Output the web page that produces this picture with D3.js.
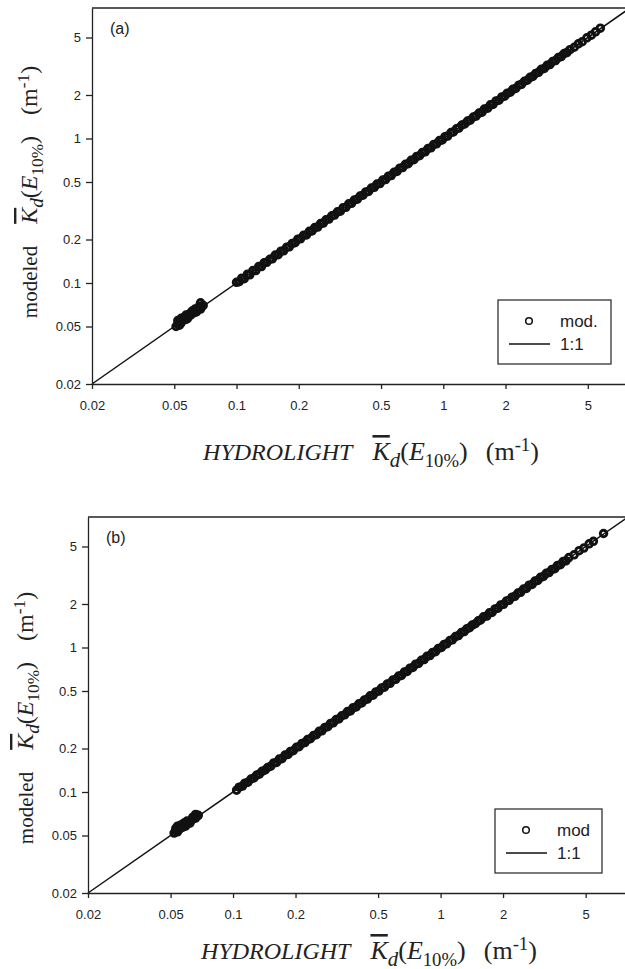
<!DOCTYPE html>
<html>
<script src="https://d3js.org/d3.v7.min.js"></script>
<style>
body {margin:0; background:#fff;}
.tick text {font-family:"Liberation Sans", Arial, sans-serif; font-size:13px; fill:#222;}
.tick line, .domain {stroke:#222; stroke-width:1.3;}
</style>
<body>
<svg width=625 height=969></svg>
<script>
// tick values shared by both axes of both panels
const ticks = [0.02, 0.05, 0.1, 0.2, 0.5, 1, 2, 5];
const domainK = [0.02, 8];

// panel (a): HYDROLIGHT Kd vs modeled Kd
const hlA = [0.051,0.052,0.053,0.052,0.054,0.055,0.054,0.056,0.057,0.058,0.057,0.059,0.060,0.061,0.062,0.061,0.063,0.064,0.065,0.066,0.067,0.068,0.066,0.069,0.067,0.053,0.058,0.063,
  0.100,0.103,0.106,0.109,0.113,0.116,0.120,0.124,0.128,0.132,0.136,0.140,0.145,0.149,0.154,0.159,0.164,0.169,0.175,0.180,0.186,0.192,0.198,0.204,0.211,0.218,0.225,0.232,0.239,0.247,0.255,0.263,0.271,0.280,0.289,0.298,0.308,0.318,0.328,0.338,0.349,0.360,0.372,0.384,0.396,0.409,0.422,0.435,0.449,0.464,0.478,0.494,0.510,0.526,0.543,0.560,0.578,0.597,0.616,0.636,0.656,0.677,0.699,0.721,0.744,0.768,0.793,0.818,0.845,0.872,0.900,0.928,0.958,0.989,1.02,1.05,1.09,1.12,1.16,1.19,1.23,1.27,1.31,1.35,1.40,1.44,1.49,1.54,1.58,1.64,1.69,1.74,1.80,1.86,1.92,1.98,2.04,2.11,2.17,2.24,2.32,2.39,2.47,2.55,2.63,2.71,2.80,2.89,2.98,3.08,3.18,3.28,3.38,3.49,3.60,3.72,3.84,3.96,
  4.10,4.30,4.50,4.70,4.95,5.20,5.45,5.75];
const modA = [0.050,0.052,0.054,0.055,0.053,0.056,0.057,0.058,0.056,0.059,0.060,0.061,0.060,0.063,0.062,0.064,0.065,0.063,0.066,0.068,0.066,0.069,0.069,0.070,0.073,0.051,0.057,0.066,
  0.101,0.102,0.108,0.107,0.115,0.114,0.122,0.122,0.130,0.130,0.138,0.139,0.146,0.147,0.156,0.157,0.166,0.167,0.177,0.178,0.188,0.190,0.201,0.202,0.214,0.215,0.228,0.229,0.242,0.244,0.258,0.260,0.274,0.277,0.292,0.295,0.311,0.314,0.332,0.334,0.353,0.356,0.376,0.380,0.400,0.405,0.427,0.430,0.454,0.459,0.484,0.488,0.516,0.520,0.549,0.554,0.584,0.591,0.623,0.629,0.663,0.670,0.707,0.713,0.752,0.760,0.801,0.809,0.854,0.862,0.910,0.918,0.968,0.978,1.03,1.04,1.10,1.11,1.17,1.18,1.24,1.26,1.32,1.34,1.41,1.43,1.50,1.52,1.60,1.62,1.71,1.72,1.82,1.84,1.94,1.96,2.06,2.09,2.19,2.22,2.34,2.37,2.49,2.53,2.65,2.69,2.82,2.87,3.01,3.05,3.21,3.25,3.41,3.46,3.63,3.69,3.87,3.93,
  4.12,4.28,4.52,4.68,4.97,5.19,5.47,5.80];

// panel (b)
const hlB = [0.052,0.053,0.054,0.053,0.055,0.056,0.055,0.057,0.058,0.059,0.058,0.060,0.061,0.062,0.063,0.062,0.064,0.065,0.066,0.067,0.068,0.066,0.054,0.056,0.060,0.064,
  0.104,0.107,0.111,0.114,0.118,0.122,0.126,0.130,0.134,0.138,0.143,0.147,0.152,0.157,0.162,0.167,0.172,0.178,0.184,0.189,0.195,0.202,0.208,0.215,0.222,0.229,0.236,0.244,0.252,0.260,0.268,0.277,0.286,0.295,0.304,0.314,0.324,0.334,0.345,0.356,0.368,0.379,0.392,0.404,0.417,0.430,0.444,0.458,0.473,0.488,0.504,0.520,0.536,0.554,0.571,0.590,0.608,0.628,0.648,0.669,0.690,0.712,0.735,0.758,0.783,0.808,0.833,0.860,0.888,0.916,0.945,0.976,1.01,1.04,1.07,1.11,1.14,1.18,1.22,1.26,1.30,1.34,1.38,1.42,1.47,1.52,1.56,1.61,1.67,1.72,1.77,1.83,1.89,1.95,2.01,2.08,2.14,2.21,2.28,2.36,2.43,2.51,2.59,2.67,2.76,2.85,2.94,3.03,3.13,3.23,3.33,3.44,3.55,3.66,3.78,3.90,4.02,4.15,
  4.40,4.65,4.90,5.20,5.45,6.10];
const modB = [0.052,0.054,0.053,0.056,0.055,0.057,0.058,0.057,0.059,0.058,0.061,0.060,0.062,0.061,0.064,0.063,0.065,0.067,0.066,0.068,0.069,0.070,0.058,0.059,0.063,0.067,
  0.103,0.108,0.110,0.115,0.117,0.123,0.125,0.131,0.133,0.139,0.142,0.148,0.151,0.159,0.160,0.169,0.170,0.180,0.182,0.191,0.193,0.204,0.206,0.217,0.220,0.231,0.234,0.246,0.249,0.263,0.265,0.280,0.283,0.298,0.301,0.317,0.321,0.337,0.342,0.360,0.364,0.383,0.388,0.408,0.413,0.434,0.440,0.463,0.468,0.493,0.499,0.525,0.531,0.560,0.565,0.596,0.602,0.634,0.641,0.676,0.683,0.719,0.728,0.766,0.775,0.816,0.825,0.869,0.879,0.925,0.936,0.986,1.00,1.05,1.06,1.12,1.13,1.19,1.21,1.27,1.29,1.35,1.37,1.43,1.46,1.53,1.55,1.63,1.65,1.74,1.75,1.85,1.87,1.97,1.99,2.10,2.12,2.23,2.26,2.38,2.41,2.54,2.56,2.70,2.73,2.88,2.91,3.06,3.10,3.26,3.30,3.47,3.51,3.70,3.74,3.94,3.98,4.19,
  4.38,4.68,4.88,5.22,5.43,6.15];

const svg = d3.select("svg");

function panel(cfg) {
    const x = d3.scaleLog().domain(domainK).range([cfg.left, cfg.right]);
    const y = d3.scaleLog().domain(domainK).range([cfg.bottom, cfg.top]);
    const g = svg.append("g");

    // 1:1 line
    g.append("line")
        .attr("x1", x(domainK[0])).attr("y1", y(domainK[0]))
        .attr("x2", x(domainK[1])).attr("y2", y(domainK[1]))
        .attr("stroke", "#111").attr("stroke-width", 1.5);

    g.selectAll("circle.pt")
        .data(d3.zip(cfg.hl, cfg.mod))
        .enter().append("circle")
        .attr("class", "pt")
        .attr("cx", d => x(d[0]))
        .attr("cy", d => y(d[1]))
        .attr("r", 3.3)
        .attr("fill", "none")
        .attr("stroke", "#111")
        .attr("stroke-width", 2.9);

    // frame top
    g.append("line")
        .attr("x1", cfg.left).attr("x2", cfg.right)
        .attr("y1", cfg.top).attr("y2", cfg.top)
        .attr("stroke", "#222").attr("stroke-width", 1.3);

    g.append("g")
        .attr("transform", `translate(${cfg.left},0)`)
        .call(d3.axisLeft(y).tickValues(ticks).tickFormat(d => String(d))
            .tickSize(6).tickSizeOuter(0).tickPadding(5));

    g.append("g")
        .attr("transform", `translate(0,${cfg.bottom})`)
        .call(d3.axisBottom(x).tickValues(ticks).tickFormat(d => String(d))
            .tickSize(5).tickSizeOuter(0).tickPadding(12));

    g.append("text")
        .attr("x", cfg.left + 18).attr("y", cfg.top + 26)
        .attr("font-family", "Liberation Sans, Arial, sans-serif")
        .attr("font-size", 16).attr("fill", "#222")
        .text(cfg.tag);

    // legend
    const lg = g.append("g").attr("transform", `translate(${cfg.legX},${cfg.legY})`);
    lg.append("rect")
        .attr("width", cfg.legW).attr("height", 64)
        .attr("fill", "#fff").attr("stroke", "#222").attr("stroke-width", 1.2);
    lg.append("circle")
        .attr("cx", 31).attr("cy", 21).attr("r", 3.3)
        .attr("fill", "none").attr("stroke", "#111").attr("stroke-width", 1.5);
    lg.append("line")
        .attr("x1", 11).attr("x2", 52).attr("y1", 44).attr("y2", 44)
        .attr("stroke", "#111").attr("stroke-width", 1.3);
    lg.selectAll("text.lt")
        .data([cfg.legLabel, "1:1"])
        .enter().append("text")
        .attr("x", 62).attr("y", (d, i) => 27 + i * 23)
        .attr("font-family", "Liberation Sans, Arial, sans-serif")
        .attr("font-size", 17).attr("fill", "#222")
        .text(d => d);

    // axis titles
    const serif = "Liberation Serif, Times New Roman, serif";
    const xt = g.append("text")
        .attr("x", cfg.xtX).attr("y", cfg.bottom + cfg.xtOff)
        .attr("text-anchor", "middle")
        .attr("font-family", serif).attr("font-size", 26).attr("fill", "#222");
    kdParts(xt, "HYDROLIGHT", true, 24, 26, 20, 18);

    const yt = g.append("text")
        .attr("transform", `translate(${cfg.left - 55},${cfg.top + cfg.ytOff}) rotate(-90)`)
        .attr("text-anchor", "middle")
        .attr("font-family", serif).attr("font-size", 24).attr("fill", "#222");
    kdParts(yt, "modeled", false, 21, 24, 22, 21);
}

function kdParts(t, first, ital, fs0, fs, gap1, gap2) {
    const s = fs * 0.72, sh = fs * 0.25;
    t.append("tspan").attr("font-style", ital ? "italic" : "normal")
        .attr("font-size", fs0).text(first);
    t.append("tspan").attr("dx", gap1).attr("font-style", "italic")
        .style("text-decoration", "overline").text("K");
    t.append("tspan").attr("font-style", "italic").attr("font-size", fs * 0.8)
        .attr("dy", sh).text("d");
    t.append("tspan").attr("dy", -sh).text("(");
    t.append("tspan").attr("font-style", "italic").text("E");
    t.append("tspan").attr("font-size", s).attr("dy", sh).text("10%");
    t.append("tspan").attr("dy", -sh).text(")");
    t.append("tspan").attr("dx", gap2).text("(m");
    t.append("tspan").attr("font-size", s).attr("dy", -fs * 0.35).text("-1");
    t.append("tspan").attr("dy", fs * 0.35).text(")");
}

panel({left: 92, right: 630, top: 8, bottom: 384, hl: hlA, mod: modA, tag: "(a)",
       legX: 498, legY: 300, legW: 113, legLabel: "mod.", xtX: 371, xtOff: 76, ytOff: 184});
panel({left: 88, right: 628, top: 517, bottom: 893, hl: hlB, mod: modB, tag: "(b)",
       legX: 495, legY: 809, legW: 107, legLabel: "mod", xtX: 369, xtOff: 66, ytOff: 201});
</script>
</body>
</html>
